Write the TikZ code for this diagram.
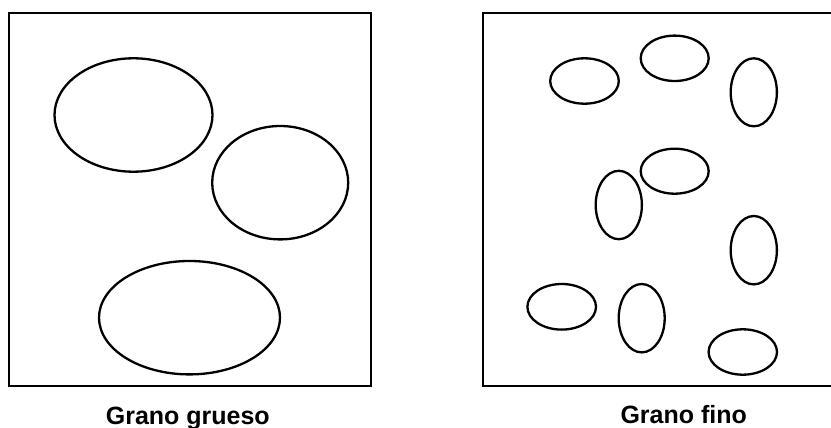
\documentclass[tikz,border=0pt]{standalone}
\usepackage{fontspec}
\setmainfont{Liberation Sans}
\begin{document}
\begin{tikzpicture}[x=1pt,y=-1pt,
  frame/.style={draw=black,line width=1.9pt},
  grain/.style={draw=black,line width=2.3pt},
  caption/.style={anchor=base,font=\fontsize{25}{29}\selectfont\bfseries,inner sep=0pt}]
\useasboundingbox (0,0) rectangle (831,428);
% left box: coarse grains
\draw[frame] (9,13.3) rectangle (370.7,385.7);
\draw[grain] (133.5,115) ellipse [x radius=79, y radius=56.7];
\draw[grain] (280.2,182.7) ellipse [x radius=68, y radius=56.7];
\draw[grain] (189.5,317.7) ellipse [x radius=90.5, y radius=56.7];
% right box: fine grains (right edge lies outside the picture)
\draw[frame] (835,13.3) -- (482.7,13.3) -- (482.7,385.7) -- (835,385.7);
\draw[grain] (584.5,81) ellipse [x radius=34.3, y radius=22.7];
\draw[grain] (674.7,58.3) ellipse [x radius=34, y radius=22.7];
\draw[grain] (753.8,92.3) ellipse [x radius=23.1, y radius=34];
\draw[grain] (674.7,171.2) ellipse [x radius=34, y radius=22.5];
\draw[grain] (618.8,205) ellipse [x radius=23.1, y radius=34.2];
\draw[grain] (753.8,250.2) ellipse [x radius=23.1, y radius=34.2];
\draw[grain] (561.7,306.8) ellipse [x radius=34.3, y radius=22.8];
\draw[grain] (641.7,318.2) ellipse [x radius=23, y radius=34.2];
\draw[grain] (742.8,352) ellipse [x radius=34.2, y radius=22.7];
% captions
\node[caption] (coarse) at (187.8,424) {Grano grueso};
\node[caption] (fine) at (683.7,423.5) {Grano fino};
\end{tikzpicture}
\end{document}
